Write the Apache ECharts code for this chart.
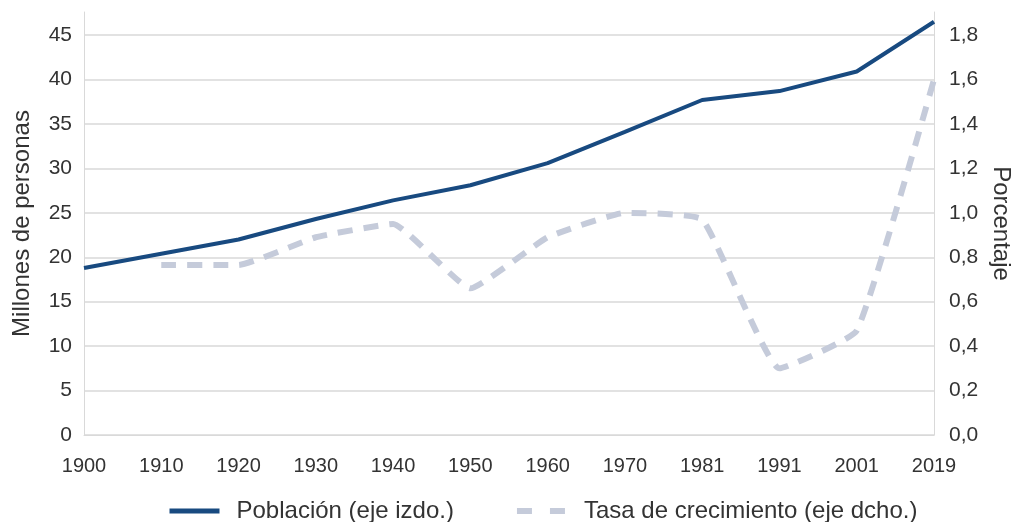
<!DOCTYPE html>
<html>
<head>
<meta charset="utf-8">
<script src="https://cdn.jsdelivr.net/npm/echarts@6/dist/echarts.min.js"></script>
<style>
  html, body { margin: 0; padding: 0; background: #fff; }
  #chart { width: 1013px; height: 522px; }
</style>
</head>
<body>
<div id="chart"></div>
<script>
// años del eje x
var years = ['1900', '1910', '1920', '1930', '1940', '1950', '1960', '1970', '1981', '1991', '2001', '2019'];
// población en millones (eje izdo.)
var poblacion = [18.8, 20.4, 22.0, 24.3, 26.4, 28.1, 30.6, 34.1, 37.7, 38.7, 40.9, 46.5];
// tasa de crecimiento en % (eje dcho.), sin dato en 1900
var tasa = [null, 0.765, 0.765, 0.89, 0.95, 0.66, 0.89, 1.0, 0.97, 0.30, 0.47, 1.60];

var font = 'Liberation Sans, Arial, sans-serif';
var txt = '#333';
var gris = '#d9d9d9';
var azul = '#184a80';
var celeste = '#c5cbda';

function coma(v) {
  return v.toFixed(1).replace('.', ',');
}

var myChart = echarts.init(document.getElementById('chart'));
myChart.setOption({
  animation: false,
  grid: { left: 84, right: 79, top: 12, bottom: 87, outerBoundsMode: 'none', containLabel: false },
  legend: {
    left: 162,
    top: 494,
    itemWidth: 50,
    itemHeight: 14,
    itemGap: 60,
    itemStyle: { opacity: 0 },
    textStyle: { fontFamily: font, fontSize: 24, color: txt, padding: [0, 0, 0, 12] },
    data: [
      { name: 'Población (eje izdo.)', lineStyle: { width: 5, color: azul } },
      { name: 'Tasa de crecimiento (eje dcho.)', lineStyle: { type: [15, 18], width: 6, color: celeste } }
    ]
  },
  xAxis: {
    type: 'category',
    data: years,
    boundaryGap: false,
    axisLine: { lineStyle: { color: gris, width: 1 } },
    axisTick: { show: false },
    axisLabel: { fontFamily: font, fontSize: 20, color: txt, margin: 21 }
  },
  yAxis: [{
    type: 'value',
    min: 0,
    max: 47.6,
    interval: 5,
    name: 'Millones de personas',
    nameLocation: 'middle',
    nameGap: 50,
    nameTextStyle: { fontFamily: font, fontSize: 24, color: txt },
    axisLine: { show: true, lineStyle: { color: gris } },
    axisTick: { show: false },
    splitLine: { show: true, showMaxLine: false, lineStyle: { color: gris, width: 1.5 } },
    axisLabel: { fontFamily: font, fontSize: 21, color: txt, margin: 12, showMaxLabel: false }
  }, {
    type: 'value',
    min: 0,
    max: 1.904,
    interval: 0.2,
    name: 'Porcentaje',
    nameLocation: 'middle',
    nameRotate: -90,
    nameGap: 53,
    nameTextStyle: { fontFamily: font, fontSize: 24, color: txt },
    axisLine: { show: true, lineStyle: { color: gris } },
    axisTick: { show: false },
    splitLine: { show: false },
    axisLabel: {
      fontFamily: font, fontSize: 21, color: txt, margin: 15, showMaxLabel: false,
      formatter: function (v) { return coma(v); }
    }
  }],
  series: [{
    name: 'Población (eje izdo.)',
    type: 'line',
    yAxisIndex: 0,
    data: poblacion,
    symbol: 'none',
    clip: false,
    z: 3,
    lineStyle: { color: azul, width: 4 },
    itemStyle: { color: azul }
  }, {
    name: 'Tasa de crecimiento (eje dcho.)',
    type: 'line',
    yAxisIndex: 1,
    data: tasa,
    symbol: 'none',
    smooth: 0.12,
    z: 2,
    lineStyle: { color: celeste, width: 6, type: [15, 11] },
    itemStyle: { color: celeste }
  }]
});
</script>
</body>
</html>
